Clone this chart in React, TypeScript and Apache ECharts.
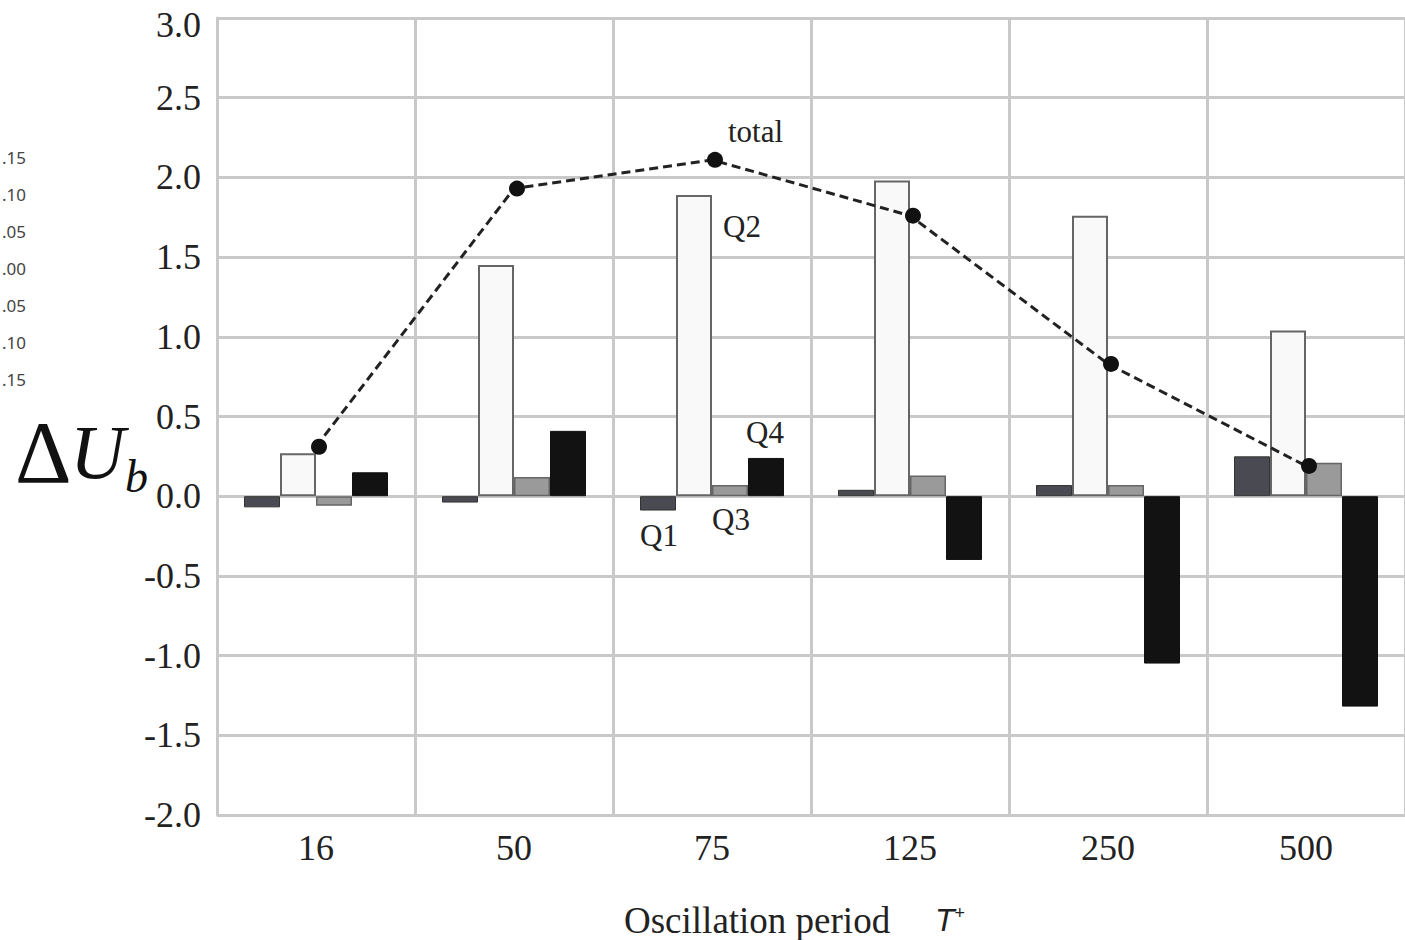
import React, { useEffect, useRef } from "react";
import * as echarts from "echarts";

const categories = ["16", "50", "75", "125", "250", "500"];
const q1 = [-0.07, -0.04, -0.09, 0.04, 0.07, 0.25];
const q2 = [0.27, 1.45, 1.89, 1.98, 1.76, 1.04];
const q3 = [-0.06, 0.12, 0.07, 0.13, 0.07, 0.21];
const q4 = [0.15, 0.41, 0.24, -0.4, -1.05, -1.32];
const total = [0.31, 1.93, 2.11, 1.76, 0.83, 0.19];
const residueLabels = [".15", ".10", ".05", ".00", ".05", ".10", ".15"];

const SERIF = "'Liberation Serif', 'DejaVu Serif', serif";
const GRID = "#c9c9c9";
const Y_MAX = 3;

export default function App() {
  const ref = useRef<HTMLDivElement>(null);
  useEffect(() => {
    if (!ref.current) return;
    const chart = echarts.init(ref.current, undefined, { renderer: "svg" });
    const barBase = { type: "bar", barWidth: 36, barGap: "0%" } as any;
    const annot = (text: string, x: number, y: number) => ({
      type: "text",
      x,
      y,
      style: { text, font: `31px ${SERIF}`, fill: "#222", verticalAlign: "top" },
    });
    chart.setOption({
      animation: false,
      backgroundColor: "#fff",
      grid: { left: 217, right: 0, top: 18, bottom: 125 },
      xAxis: {
        type: "category",
        data: categories,
        boundaryGap: true,
        axisLine: { show: false, onZero: false },
        axisTick: { show: false },
        axisLabel: { fontFamily: SERIF, fontSize: 36, color: "#222", margin: 15 },
        splitLine: { show: true, lineStyle: { color: GRID, width: 3 } },
      },
      yAxis: {
        type: "value",
        min: -2,
        max: Y_MAX,
        interval: 0.5,
        axisLine: { show: true, lineStyle: { color: GRID, width: 3 } },
        axisTick: { show: false },
        axisLabel: {
          fontFamily: SERIF,
          fontSize: 36,
          color: "#222",
          margin: 16,
          formatter: (v: number) => (v === Y_MAX ? `{top|${v.toFixed(1)}}` : v.toFixed(1)),
          rich: {
            top: { fontFamily: SERIF, fontSize: 36, color: "#222", padding: [14, 0, 0, 0] },
          },
        },
        splitLine: { show: true, lineStyle: { color: GRID, width: 3 } },
      },
      series: [
        { ...barBase, name: "Q1", data: q1, itemStyle: { color: "#4a4a52", borderColor: "#333", borderWidth: 1 } },
        { ...barBase, name: "Q2", data: q2, itemStyle: { color: "#f9f9f9", borderColor: "#666", borderWidth: 2 } },
        { ...barBase, name: "Q3", data: q3, itemStyle: { color: "#9a9a9a", borderColor: "#666", borderWidth: 1.5 } },
        { ...barBase, name: "Q4", data: q4, itemStyle: { color: "#121212", borderColor: "#111", borderWidth: 1 } },
        {
          type: "line",
          name: "total",
          data: total,
          z: 5,
          symbol: "circle",
          symbolSize: 16,
          symbolOffset: [3, 0],
          itemStyle: { color: "#111" },
          lineStyle: { color: "#222", width: 3, type: [9, 5] },
        },
      ],
      graphic: [
        annot("total", 728, 116),
        annot("Q2", 723, 211),
        annot("Q4", 746, 417),
        annot("Q1", 640, 520),
        annot("Q3", 712, 504),
        {
          type: "text",
          x: 15,
          y: 452,
          style: { text: "Δ", font: `88px ${SERIF}`, fill: "#111", verticalAlign: "middle" },
        },
        {
          type: "text",
          x: 70,
          y: 452,
          style: { text: "U", font: `italic 76px ${SERIF}`, fill: "#111", verticalAlign: "middle" },
        },
        {
          type: "text",
          x: 125,
          y: 476,
          style: { text: "b", font: `italic 46px ${SERIF}`, fill: "#111", verticalAlign: "middle" },
        },
        {
          type: "text",
          x: 624,
          y: 920,
          style: { text: "Oscillation period", font: `37px ${SERIF}`, fill: "#222", verticalAlign: "middle" },
        },
        {
          type: "text",
          x: 935,
          y: 920,
          style: {
            text: "{t|T}{p|+}",
            fill: "#222",
            verticalAlign: "middle",
            rich: {
              t: { font: "italic 32px 'Liberation Sans', Arial, sans-serif", fill: "#222" },
              p: { font: "18px 'Liberation Sans', Arial, sans-serif", fill: "#222", padding: [0, 0, 14, 0] },
            },
          },
        },
        ...residueLabels.map((t, i) => ({
          type: "text",
          x: 26,
          y: 157 + i * 37,
          style: {
            text: t,
            font: "17px 'Noto Sans', 'DejaVu Sans', sans-serif",
            fill: "#444",
            align: "right",
            verticalAlign: "middle",
          },
        })),
      ],
    });
    return () => chart.dispose();
  }, []);
  return (
    <div
      ref={ref}
      style={{ position: "fixed", left: 0, top: 0, width: 1405, height: 940, background: "#fff" }}
    />
  );
}
